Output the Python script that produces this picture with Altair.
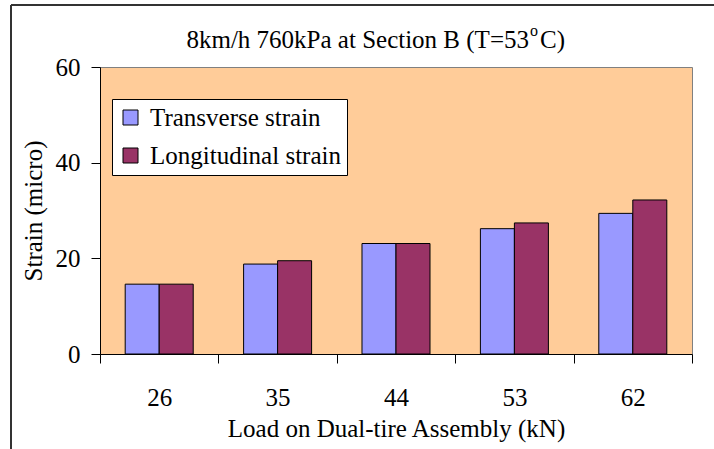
import altair as alt
import pandas as pd

loads = ["26", "35", "44", "53", "62"]
transverse = [14.6, 18.8, 23.1, 26.2, 29.4]
longitudinal = [14.6, 19.5, 23.1, 27.4, 32.2]
series_names = ["Transverse strain", "Longitudinal strain"]
series_colors = ["#9999FF", "#993366"]
y_ticks = [0, 20, 40, 60]

rows = []
for i, ld in enumerate(loads):
    rows.append({"Load": ld, "Series": series_names[0], "Strain": transverse[i]})
    rows.append({"Load": ld, "Series": series_names[1], "Strain": longitudinal[i]})
df = pd.DataFrame(rows)

FONT = "'Times New Roman', 'Liberation Serif', Times, serif"
W, H = 592, 287

bars = alt.Chart(df).mark_bar(stroke="black", strokeWidth=1).encode(
    x=alt.X("Load:N", sort=loads,
            scale=alt.Scale(paddingInner=0, paddingOuter=0),
            axis=alt.Axis(title="Load on Dual-tire Assembly (kN)", labelAngle=0,
                          tickBand="extent", tickSize=9, tickColor="black",
                          domainColor="black", labelFontSize=25, labelFont=FONT,
                          labelColor="black", labelBaseline="alphabetic",
                          labelPadding=42, titleFontSize=25, titleFont=FONT,
                          titleFontWeight="normal", titleColor="black",
                          titleBaseline="alphabetic", titleY=82, titleX=W / 2,
                          grid=False)),
    xOffset=alt.XOffset("Series:N", sort=series_names,
                        scale=alt.Scale(paddingInner=0, paddingOuter=0.741)),
    y=alt.Y("Strain:Q", scale=alt.Scale(domain=[0, 60], nice=False),
            axis=alt.Axis(title="Strain (micro)", values=y_ticks, tickSize=9,
                          tickColor="black", domainColor="black",
                          labelFontSize=25, labelFont=FONT, labelColor="black",
                          labelPadding=11, titleFontSize=25, titleFont=FONT,
                          titleFontWeight="normal", titleColor="black",
                          titleAngle=-90, titleBaseline="middle", titleAlign="center",
                          titleX=-67, titleY=H / 2, grid=False)),
    color=alt.Color("Series:N", sort=series_names,
                    scale=alt.Scale(domain=series_names, range=series_colors),
                    legend=alt.Legend(title=None, orient="none", legendX=12, legendY=32,
                                      fillColor="white", strokeColor="black",
                                      padding=6, rowPadding=12, symbolType="square",
                                      symbolSize=225, symbolStrokeColor="black",
                                      symbolStrokeWidth=1, symbolOpacity=1,
                                      labelFont=FONT, labelFontSize=25,
                                      labelColor="black", labelOffset=7,
                                      labelLimit=400)),
)

one = pd.DataFrame({"k": [0]})

title_main = alt.Chart(one).mark_text(
    text="8km/h 760kPa at Section B (T=53", font=FONT, fontSize=25, color="black",
    align="right", baseline="alphabetic").encode(x=alt.value(429), y=alt.value(-19))
title_sup = alt.Chart(one).mark_text(
    text="o", font=FONT, fontSize=16, color="black",
    align="left", baseline="alphabetic").encode(x=alt.value(430), y=alt.value(-31))
title_end = alt.Chart(one).mark_text(
    text="C)", font=FONT, fontSize=25, color="black",
    align="left", baseline="alphabetic").encode(x=alt.value(440), y=alt.value(-19))

frame_top = alt.Chart(one).mark_rule(color="#333333", strokeWidth=2).encode(
    x=alt.value(-89), x2=alt.value(614), y=alt.value(-62))
frame_left = alt.Chart(one).mark_rule(color="#333333", strokeWidth=2).encode(
    x=alt.value(-89), y=alt.value(-62), y2=alt.value(382))

chart = alt.layer(bars, title_main, title_sup, title_end, frame_top, frame_left).properties(
    width=W, height=H,
    padding={"left": 100, "top": 67, "right": 22, "bottom": 95},
    autosize=alt.AutoSizeParams(type="none"),
    background="white",
).configure(
    font=FONT,
    view=alt.ViewConfig(fill="#FFCC99", stroke="#808080", strokeWidth=1),
)

chart.save("out.html", embed_options={"renderer": "svg", "actions": False})
